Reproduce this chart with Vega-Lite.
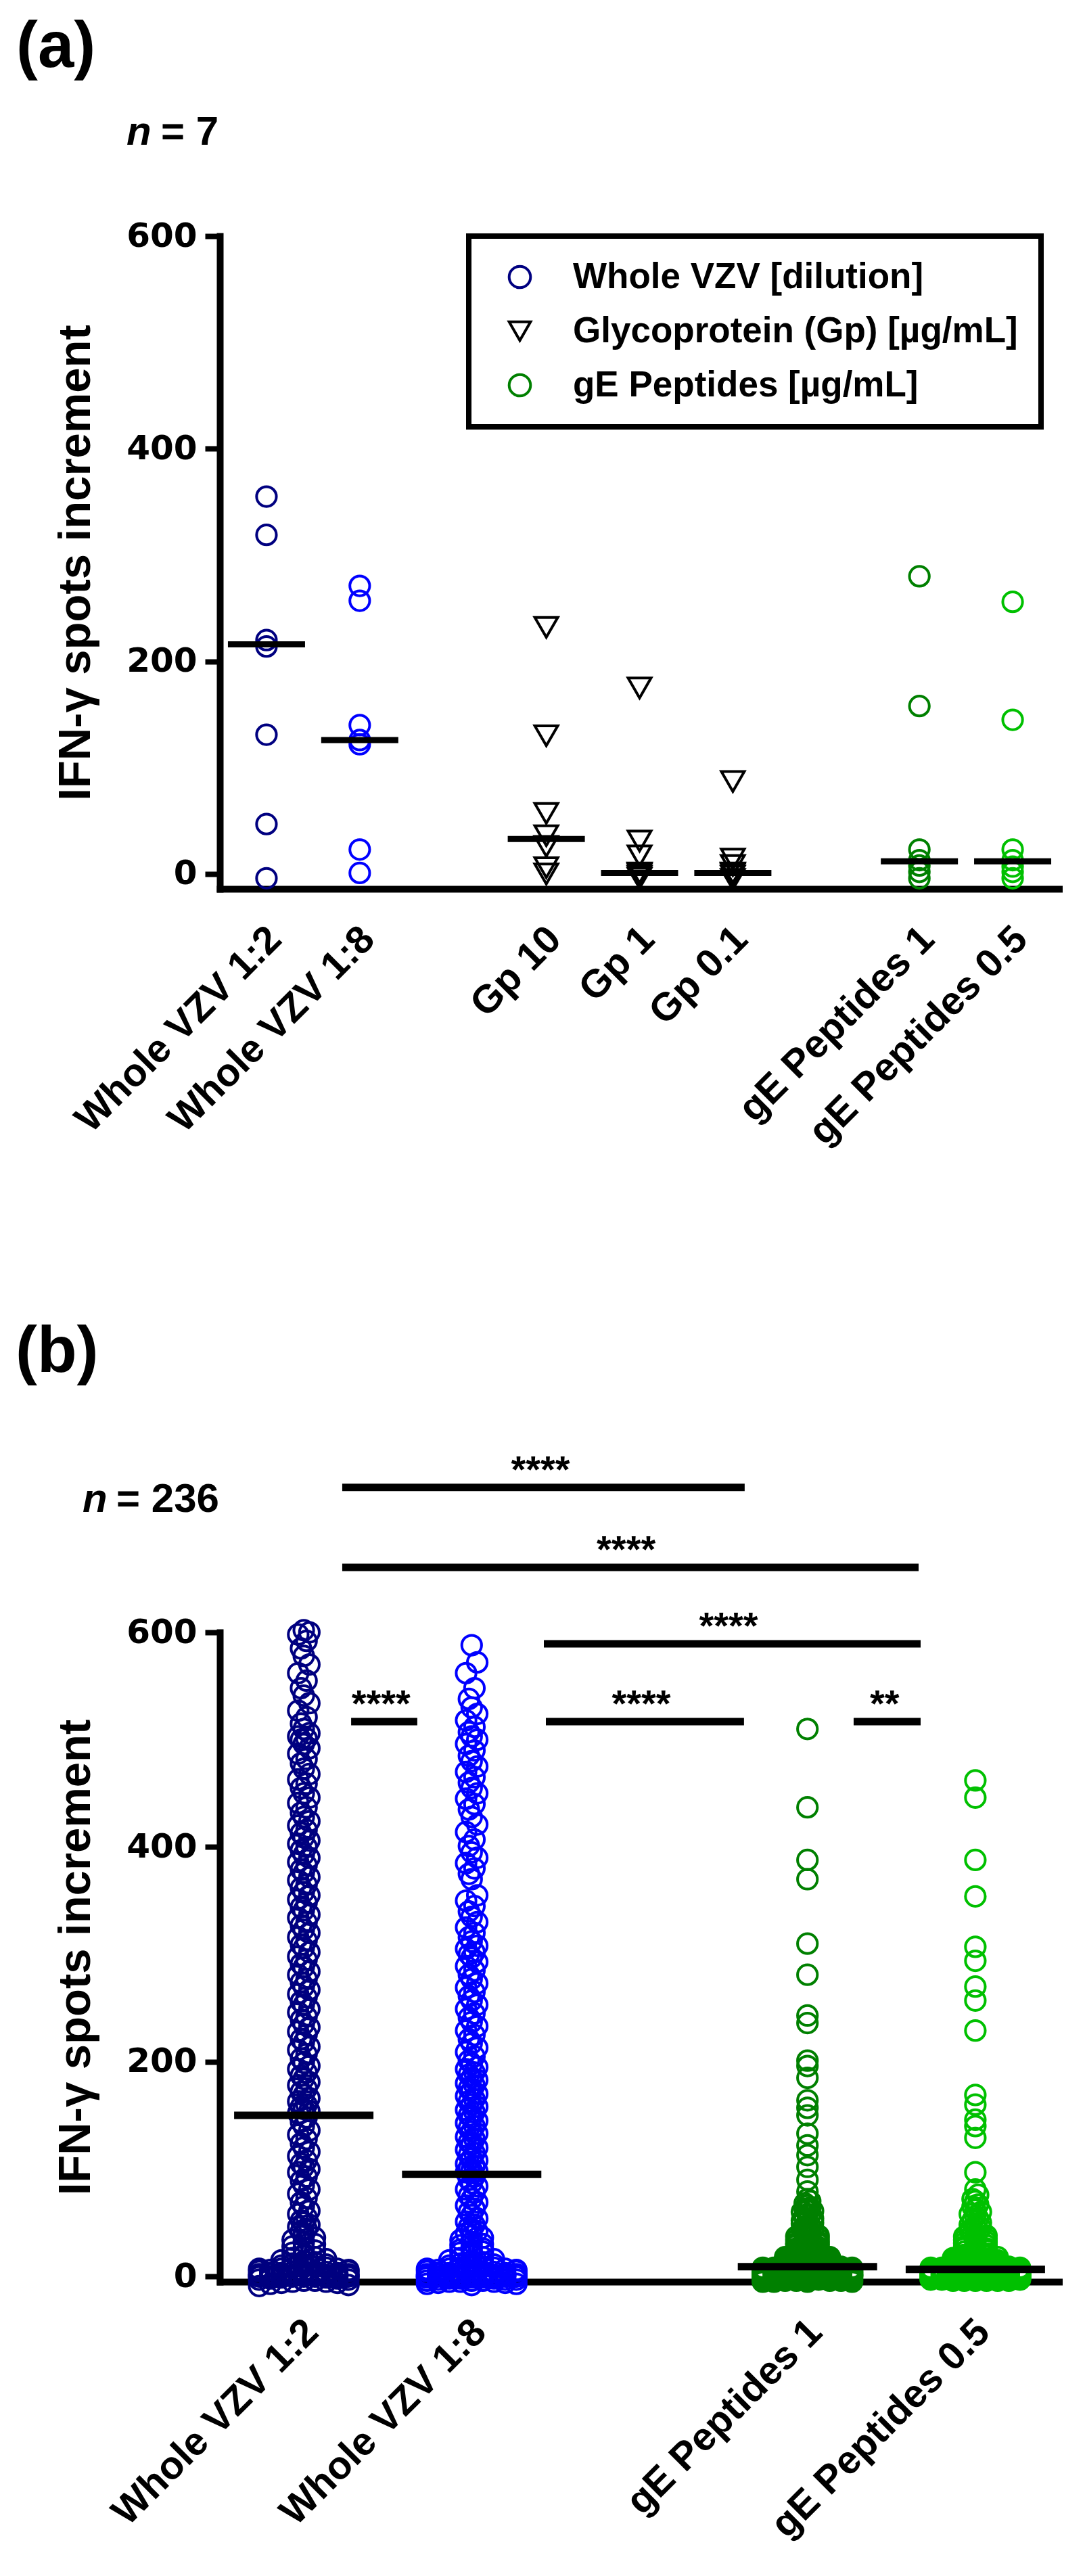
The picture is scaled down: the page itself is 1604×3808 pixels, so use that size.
{
"$schema":"https://vega.github.io/schema/vega-lite/v6.json",
"background":"white",
"padding":{"left":22,"top":22,"right":5,"bottom":5},
"spacing":247,
"config":{
 "view":{"stroke":null},
 "font":"Liberation Sans",
 "legend":{"strokeColor":"black","strokeWidth":8,"symbolStrokeWidth":4},
 "axisX":{"domainWidth":10,"domainColor":"black","domainCap":"square","ticks":false,"grid":false,"labelAngle":-45,"labelAlign":"right","labelBaseline":"top","labelFont":"Liberation Sans","labelFontSize":58,"labelFontWeight":"bold","labelColor":"black","labelPadding":45,"labelOffset":-8,"labelLimit":2000,"labelOverlap":false,"labelBound":false},
 "axisY":{"domainWidth":10,"domainColor":"black","domainCap":"square","ticks":true,"tickWidth":8,"tickSize":22,"tickColor":"black","grid":false,"labelFont":"DejaVu Sans","labelFontSize":50,"labelFontWeight":"bold","labelColor":"black","labelPadding":12,"titleFont":"Liberation Sans","titleFontSize":67,"titleFontWeight":"bold","titleColor":"black","titlePadding":40}
},
"datasets":{
 "a_points":[
  {"c":"Whole VZV 1:2","g":"Whole VZV [dilution]","v":355},{"c":"Whole VZV 1:2","g":"Whole VZV [dilution]","v":319},{"c":"Whole VZV 1:2","g":"Whole VZV [dilution]","v":220},{"c":"Whole VZV 1:2","g":"Whole VZV [dilution]","v":214},{"c":"Whole VZV 1:2","g":"Whole VZV [dilution]","v":131},{"c":"Whole VZV 1:2","g":"Whole VZV [dilution]","v":47},{"c":"Whole VZV 1:2","g":"Whole VZV [dilution]","v":-4},
  {"c":"Whole VZV 1:8","g":"Whole VZV [dilution]","v":271},{"c":"Whole VZV 1:8","g":"Whole VZV [dilution]","v":257},{"c":"Whole VZV 1:8","g":"Whole VZV [dilution]","v":140},{"c":"Whole VZV 1:8","g":"Whole VZV [dilution]","v":126},{"c":"Whole VZV 1:8","g":"Whole VZV [dilution]","v":122},{"c":"Whole VZV 1:8","g":"Whole VZV [dilution]","v":23},{"c":"Whole VZV 1:8","g":"Whole VZV [dilution]","v":1},
  {"c":"Gp 10","g":"Glycoprotein (Gp) [µg/mL]","v":232},{"c":"Gp 10","g":"Glycoprotein (Gp) [µg/mL]","v":130},{"c":"Gp 10","g":"Glycoprotein (Gp) [µg/mL]","v":57},{"c":"Gp 10","g":"Glycoprotein (Gp) [µg/mL]","v":36},{"c":"Gp 10","g":"Glycoprotein (Gp) [µg/mL]","v":26},{"c":"Gp 10","g":"Glycoprotein (Gp) [µg/mL]","v":6},{"c":"Gp 10","g":"Glycoprotein (Gp) [µg/mL]","v":0},
  {"c":"Gp 1","g":"Glycoprotein (Gp) [µg/mL]","v":175},{"c":"Gp 1","g":"Glycoprotein (Gp) [µg/mL]","v":31},{"c":"Gp 1","g":"Glycoprotein (Gp) [µg/mL]","v":17},{"c":"Gp 1","g":"Glycoprotein (Gp) [µg/mL]","v":1},{"c":"Gp 1","g":"Glycoprotein (Gp) [µg/mL]","v":0},{"c":"Gp 1","g":"Glycoprotein (Gp) [µg/mL]","v":-2},{"c":"Gp 1","g":"Glycoprotein (Gp) [µg/mL]","v":-4},
  {"c":"Gp 0.1","g":"Glycoprotein (Gp) [µg/mL]","v":87},{"c":"Gp 0.1","g":"Glycoprotein (Gp) [µg/mL]","v":14},{"c":"Gp 0.1","g":"Glycoprotein (Gp) [µg/mL]","v":8},{"c":"Gp 0.1","g":"Glycoprotein (Gp) [µg/mL]","v":1},{"c":"Gp 0.1","g":"Glycoprotein (Gp) [µg/mL]","v":0},{"c":"Gp 0.1","g":"Glycoprotein (Gp) [µg/mL]","v":-2},{"c":"Gp 0.1","g":"Glycoprotein (Gp) [µg/mL]","v":-5},
  {"c":"gE Peptides 1","g":"gE Peptides [µg/mL]","v":280},{"c":"gE Peptides 1","g":"gE Peptides [µg/mL]","v":158},{"c":"gE Peptides 1","g":"gE Peptides [µg/mL]","v":23},{"c":"gE Peptides 1","g":"gE Peptides [µg/mL]","v":13},{"c":"gE Peptides 1","g":"gE Peptides [µg/mL]","v":8},{"c":"gE Peptides 1","g":"gE Peptides [µg/mL]","v":2},{"c":"gE Peptides 1","g":"gE Peptides [µg/mL]","v":-4},
  {"c":"gE Peptides 0.5","g":"gE Peptides [µg/mL]","v":256},{"c":"gE Peptides 0.5","g":"gE Peptides [µg/mL]","v":145},{"c":"gE Peptides 0.5","g":"gE Peptides [µg/mL]","v":23},{"c":"gE Peptides 0.5","g":"gE Peptides [µg/mL]","v":13},{"c":"gE Peptides 0.5","g":"gE Peptides [µg/mL]","v":7},{"c":"gE Peptides 0.5","g":"gE Peptides [µg/mL]","v":2},{"c":"gE Peptides 0.5","g":"gE Peptides [µg/mL]","v":-4}
 ],
 "a_medians":[
  {"c":"Whole VZV 1:2","m":216},{"c":"Whole VZV 1:8","m":126},{"c":"Gp 10","m":33},{"c":"Gp 1","m":1},{"c":"Gp 0.1","m":1},{"c":"gE Peptides 1","m":12},{"c":"gE Peptides 0.5","m":12}
 ],
 "b_medians":[
  {"c":"Whole VZV 1:2","m":150},{"c":"Whole VZV 1:8","m":95},{"c":"gE Peptides 1","m":9},{"c":"gE Peptides 0.5","m":6.5}
 ],
 "b_sig":[
  {"x1":0.229,"x2":2.626,"y":735,"xm":1.41,"t":"****"},
  {"x1":0.229,"x2":3.662,"y":660.5,"xm":1.92,"t":"****"},
  {"x1":1.43,"x2":3.674,"y":589.3,"xm":2.53,"t":"****"},
  {"x1":0.282,"x2":0.676,"y":516.8,"xm":0.46,"t":"****"},
  {"x1":1.442,"x2":2.622,"y":516.8,"xm":2.01,"t":"****"},
  {"x1":3.275,"x2":3.674,"y":516.8,"xm":3.46,"t":"**"}
 ],
 "b_points":[
{"c":"Whole VZV 1:2","v":602,"l":0},{"c":"Whole VZV 1:2","v":600,"l":0.5},{"c":"Whole VZV 1:2","v":598,"l":-0.5},{"c":"Whole VZV 1:2","v":592,"l":0.25},{"c":"Whole VZV 1:2","v":585,"l":-0.25},
{"c":"Whole VZV 1:2","v":578,"l":0},{"c":"Whole VZV 1:2","v":570,"l":0.5},{"c":"Whole VZV 1:2","v":562,"l":-0.5},{"c":"Whole VZV 1:2","v":555,"l":0.25},{"c":"Whole VZV 1:2","v":548,"l":-0.25},
{"c":"Whole VZV 1:2","v":541,"l":0},{"c":"Whole VZV 1:2","v":534,"l":0.5},{"c":"Whole VZV 1:2","v":527,"l":-0.5},{"c":"Whole VZV 1:2","v":521,"l":0.25},{"c":"Whole VZV 1:2","v":515,"l":-0.25},
{"c":"Whole VZV 1:2","v":510,"l":0},{"c":"Whole VZV 1:2","v":506,"l":0.5},{"c":"Whole VZV 1:2","v":503,"l":-0.5},{"c":"Whole VZV 1:2","v":501,"l":0.25},{"c":"Whole VZV 1:2","v":500,"l":-0.25},
{"c":"Whole VZV 1:2","v":496,"l":0},{"c":"Whole VZV 1:2","v":492,"l":0.5},{"c":"Whole VZV 1:2","v":487,"l":-0.5},{"c":"Whole VZV 1:2","v":482,"l":0.25},{"c":"Whole VZV 1:2","v":478,"l":-0.25},
{"c":"Whole VZV 1:2","v":473,"l":0},{"c":"Whole VZV 1:2","v":468,"l":0.5},{"c":"Whole VZV 1:2","v":463,"l":-0.5},{"c":"Whole VZV 1:2","v":459,"l":0.25},{"c":"Whole VZV 1:2","v":455,"l":-0.25},
{"c":"Whole VZV 1:2","v":450,"l":0},{"c":"Whole VZV 1:2","v":446,"l":0.5},{"c":"Whole VZV 1:2","v":441,"l":-0.5},{"c":"Whole VZV 1:2","v":437,"l":0.25},{"c":"Whole VZV 1:2","v":432,"l":-0.25},
{"c":"Whole VZV 1:2","v":428,"l":0},{"c":"Whole VZV 1:2","v":424,"l":0.5},{"c":"Whole VZV 1:2","v":420,"l":-0.5},{"c":"Whole VZV 1:2","v":416,"l":0.25},{"c":"Whole VZV 1:2","v":413,"l":-0.25},
{"c":"Whole VZV 1:2","v":409,"l":0},{"c":"Whole VZV 1:2","v":406,"l":0.5},{"c":"Whole VZV 1:2","v":403,"l":-0.5},{"c":"Whole VZV 1:2","v":400,"l":0.25},{"c":"Whole VZV 1:2","v":397,"l":-0.25},
{"c":"Whole VZV 1:2","v":393,"l":0},{"c":"Whole VZV 1:2","v":390,"l":0.5},{"c":"Whole VZV 1:2","v":386,"l":-0.5},{"c":"Whole VZV 1:2","v":383,"l":0.25},{"c":"Whole VZV 1:2","v":379,"l":-0.25},
{"c":"Whole VZV 1:2","v":376,"l":0},{"c":"Whole VZV 1:2","v":372,"l":0.5},{"c":"Whole VZV 1:2","v":369,"l":-0.5},{"c":"Whole VZV 1:2","v":365,"l":0.25},{"c":"Whole VZV 1:2","v":362,"l":-0.25},
{"c":"Whole VZV 1:2","v":358,"l":0},{"c":"Whole VZV 1:2","v":355,"l":0.5},{"c":"Whole VZV 1:2","v":351,"l":-0.5},{"c":"Whole VZV 1:2","v":348,"l":0.25},{"c":"Whole VZV 1:2","v":344,"l":-0.25},
{"c":"Whole VZV 1:2","v":341,"l":0},{"c":"Whole VZV 1:2","v":337,"l":0.5},{"c":"Whole VZV 1:2","v":334,"l":-0.5},{"c":"Whole VZV 1:2","v":330,"l":0.25},{"c":"Whole VZV 1:2","v":327,"l":-0.25},
{"c":"Whole VZV 1:2","v":323,"l":0},{"c":"Whole VZV 1:2","v":320,"l":0.5},{"c":"Whole VZV 1:2","v":316,"l":-0.5},{"c":"Whole VZV 1:2","v":313,"l":0.25},{"c":"Whole VZV 1:2","v":309,"l":-0.25},
{"c":"Whole VZV 1:2","v":306,"l":0},{"c":"Whole VZV 1:2","v":302,"l":0.5},{"c":"Whole VZV 1:2","v":298,"l":-0.5},{"c":"Whole VZV 1:2","v":295,"l":0.25},{"c":"Whole VZV 1:2","v":291,"l":-0.25},
{"c":"Whole VZV 1:2","v":288,"l":0},{"c":"Whole VZV 1:2","v":284,"l":0.5},{"c":"Whole VZV 1:2","v":281,"l":-0.5},{"c":"Whole VZV 1:2","v":277,"l":0.25},{"c":"Whole VZV 1:2","v":274,"l":-0.25},
{"c":"Whole VZV 1:2","v":270,"l":0},{"c":"Whole VZV 1:2","v":267,"l":0.5},{"c":"Whole VZV 1:2","v":263,"l":-0.5},{"c":"Whole VZV 1:2","v":260,"l":0.25},{"c":"Whole VZV 1:2","v":256,"l":-0.25},
{"c":"Whole VZV 1:2","v":253,"l":0},{"c":"Whole VZV 1:2","v":249,"l":0.5},{"c":"Whole VZV 1:2","v":246,"l":-0.5},{"c":"Whole VZV 1:2","v":242,"l":0.25},{"c":"Whole VZV 1:2","v":239,"l":-0.25},
{"c":"Whole VZV 1:2","v":235,"l":0},{"c":"Whole VZV 1:2","v":232,"l":0.5},{"c":"Whole VZV 1:2","v":228,"l":-0.5},{"c":"Whole VZV 1:2","v":225,"l":0.25},{"c":"Whole VZV 1:2","v":221,"l":-0.25},
{"c":"Whole VZV 1:2","v":218,"l":0},{"c":"Whole VZV 1:2","v":214,"l":0.5},{"c":"Whole VZV 1:2","v":211,"l":-0.5},{"c":"Whole VZV 1:2","v":207,"l":0.25},{"c":"Whole VZV 1:2","v":203,"l":-0.25},
{"c":"Whole VZV 1:2","v":199,"l":0},{"c":"Whole VZV 1:2","v":196,"l":0.5},{"c":"Whole VZV 1:2","v":193,"l":-0.5},{"c":"Whole VZV 1:2","v":190,"l":0.25},{"c":"Whole VZV 1:2","v":187,"l":-0.25},
{"c":"Whole VZV 1:2","v":184,"l":0},{"c":"Whole VZV 1:2","v":181,"l":0.5},{"c":"Whole VZV 1:2","v":178,"l":-0.5},{"c":"Whole VZV 1:2","v":175,"l":0.25},{"c":"Whole VZV 1:2","v":172,"l":-0.25},
{"c":"Whole VZV 1:2","v":169,"l":0},{"c":"Whole VZV 1:2","v":166,"l":0.5},{"c":"Whole VZV 1:2","v":163,"l":-0.5},{"c":"Whole VZV 1:2","v":160,"l":0.25},{"c":"Whole VZV 1:2","v":158,"l":-0.25},
{"c":"Whole VZV 1:2","v":156,"l":0},{"c":"Whole VZV 1:2","v":154,"l":0.5},{"c":"Whole VZV 1:2","v":152,"l":-0.5},{"c":"Whole VZV 1:2","v":148,"l":0.25},{"c":"Whole VZV 1:2","v":144,"l":-0.25},
{"c":"Whole VZV 1:2","v":140,"l":0},{"c":"Whole VZV 1:2","v":136,"l":0.5},{"c":"Whole VZV 1:2","v":132,"l":-0.5},{"c":"Whole VZV 1:2","v":128,"l":0.25},{"c":"Whole VZV 1:2","v":124,"l":-0.25},
{"c":"Whole VZV 1:2","v":120,"l":0},{"c":"Whole VZV 1:2","v":116,"l":0.5},{"c":"Whole VZV 1:2","v":112,"l":-0.5},{"c":"Whole VZV 1:2","v":108,"l":0.25},{"c":"Whole VZV 1:2","v":105,"l":-0.25},
{"c":"Whole VZV 1:2","v":102,"l":0},{"c":"Whole VZV 1:2","v":100,"l":0.5},{"c":"Whole VZV 1:2","v":97,"l":-0.5},{"c":"Whole VZV 1:2","v":93,"l":0.25},{"c":"Whole VZV 1:2","v":89,"l":-0.25},
{"c":"Whole VZV 1:2","v":85,"l":0},{"c":"Whole VZV 1:2","v":81,"l":0.5},{"c":"Whole VZV 1:2","v":77,"l":-0.5},{"c":"Whole VZV 1:2","v":73,"l":0.25},{"c":"Whole VZV 1:2","v":69,"l":-0.25},
{"c":"Whole VZV 1:2","v":65,"l":0},{"c":"Whole VZV 1:2","v":61,"l":0.5},{"c":"Whole VZV 1:2","v":58,"l":-0.5},{"c":"Whole VZV 1:2","v":55,"l":0.25},{"c":"Whole VZV 1:2","v":52,"l":-0.25},
{"c":"Whole VZV 1:2","v":50,"l":0},{"c":"Whole VZV 1:2","v":48,"l":0.5},{"c":"Whole VZV 1:2","v":46,"l":-0.5},{"c":"Whole VZV 1:2","v":44,"l":0.25},{"c":"Whole VZV 1:2","v":42,"l":-0.25},
{"c":"Whole VZV 1:2","v":40,"l":0},
{"c":"Whole VZV 1:2","v":38,"l":0},{"c":"Whole VZV 1:2","v":36,"l":1},{"c":"Whole VZV 1:2","v":34,"l":-1},{"c":"Whole VZV 1:2","v":32,"l":0},{"c":"Whole VZV 1:2","v":30,"l":1},{"c":"Whole VZV 1:2","v":28,"l":-1},{"c":"Whole VZV 1:2","v":26,"l":0},{"c":"Whole VZV 1:2","v":24,"l":1},{"c":"Whole VZV 1:2","v":22,"l":-1},{"c":"Whole VZV 1:2","v":20,"l":0},
{"c":"Whole VZV 1:2","v":19,"l":0},{"c":"Whole VZV 1:2","v":18,"l":1},{"c":"Whole VZV 1:2","v":17,"l":-1},{"c":"Whole VZV 1:2","v":16,"l":2},{"c":"Whole VZV 1:2","v":15,"l":-2},{"c":"Whole VZV 1:2","v":14,"l":0},{"c":"Whole VZV 1:2","v":13,"l":1},{"c":"Whole VZV 1:2","v":12,"l":-1},{"c":"Whole VZV 1:2","v":11,"l":2},{"c":"Whole VZV 1:2","v":10,"l":-2},{"c":"Whole VZV 1:2","v":11,"l":0},{"c":"Whole VZV 1:2","v":13,"l":1},
{"c":"Whole VZV 1:2","v":9,"l":0},{"c":"Whole VZV 1:2","v":9,"l":1},{"c":"Whole VZV 1:2","v":8,"l":-1},{"c":"Whole VZV 1:2","v":8,"l":2},{"c":"Whole VZV 1:2","v":7,"l":-2},{"c":"Whole VZV 1:2","v":7,"l":3},{"c":"Whole VZV 1:2","v":6,"l":-3},{"c":"Whole VZV 1:2","v":6,"l":4},{"c":"Whole VZV 1:2","v":5,"l":-4},
{"c":"Whole VZV 1:2","v":5,"l":0},{"c":"Whole VZV 1:2","v":4,"l":1},{"c":"Whole VZV 1:2","v":4,"l":-1},{"c":"Whole VZV 1:2","v":4,"l":2},{"c":"Whole VZV 1:2","v":3,"l":-2},{"c":"Whole VZV 1:2","v":3,"l":3},{"c":"Whole VZV 1:2","v":3,"l":-3},{"c":"Whole VZV 1:2","v":2,"l":4},{"c":"Whole VZV 1:2","v":2,"l":-4},
{"c":"Whole VZV 1:2","v":2,"l":0},{"c":"Whole VZV 1:2","v":1,"l":1},{"c":"Whole VZV 1:2","v":1,"l":-1},{"c":"Whole VZV 1:2","v":1,"l":2},{"c":"Whole VZV 1:2","v":0,"l":-2},{"c":"Whole VZV 1:2","v":0,"l":3},{"c":"Whole VZV 1:2","v":0,"l":-3},{"c":"Whole VZV 1:2","v":0,"l":4},{"c":"Whole VZV 1:2","v":0,"l":-4},
{"c":"Whole VZV 1:2","v":0,"l":0},{"c":"Whole VZV 1:2","v":0,"l":1},{"c":"Whole VZV 1:2","v":0,"l":-1},{"c":"Whole VZV 1:2","v":0,"l":2},{"c":"Whole VZV 1:2","v":0,"l":-2},{"c":"Whole VZV 1:2","v":0,"l":3},{"c":"Whole VZV 1:2","v":0,"l":-3},{"c":"Whole VZV 1:2","v":0,"l":4},{"c":"Whole VZV 1:2","v":0,"l":-4},
{"c":"Whole VZV 1:2","v":0,"l":0},{"c":"Whole VZV 1:2","v":0,"l":1},{"c":"Whole VZV 1:2","v":0,"l":-1},{"c":"Whole VZV 1:2","v":0,"l":2},{"c":"Whole VZV 1:2","v":1,"l":-2},{"c":"Whole VZV 1:2","v":2,"l":3},{"c":"Whole VZV 1:2","v":3,"l":-3},{"c":"Whole VZV 1:2","v":5,"l":4},{"c":"Whole VZV 1:2","v":7,"l":-4},
{"c":"Whole VZV 1:2","v":9,"l":0},{"c":"Whole VZV 1:2","v":2,"l":1},{"c":"Whole VZV 1:2","v":4,"l":-1},{"c":"Whole VZV 1:2","v":-1,"l":2},{"c":"Whole VZV 1:2","v":-1,"l":-2},{"c":"Whole VZV 1:2","v":-2,"l":3},{"c":"Whole VZV 1:2","v":-2,"l":-3},{"c":"Whole VZV 1:2","v":-3,"l":4},{"c":"Whole VZV 1:2","v":-3,"l":-4},
{"c":"Whole VZV 1:2","v":-4,"l":0},{"c":"Whole VZV 1:2","v":-4,"l":1},{"c":"Whole VZV 1:2","v":-5,"l":-1},{"c":"Whole VZV 1:2","v":-5,"l":2},{"c":"Whole VZV 1:2","v":-6,"l":-2},{"c":"Whole VZV 1:2","v":-6,"l":3},{"c":"Whole VZV 1:2","v":-7,"l":-3},{"c":"Whole VZV 1:2","v":-8,"l":4},{"c":"Whole VZV 1:2","v":-9,"l":-4},

{"c":"Whole VZV 1:8","v":588,"l":0},{"c":"Whole VZV 1:8","v":572,"l":0.5},{"c":"Whole VZV 1:8","v":562,"l":-0.5},{"c":"Whole VZV 1:8","v":548,"l":0.25},{"c":"Whole VZV 1:8","v":538,"l":-0.25},
{"c":"Whole VZV 1:8","v":530,"l":0},{"c":"Whole VZV 1:8","v":524,"l":0.5},{"c":"Whole VZV 1:8","v":518,"l":-0.5},{"c":"Whole VZV 1:8","v":512,"l":0.25},{"c":"Whole VZV 1:8","v":507,"l":-0.25},
{"c":"Whole VZV 1:8","v":503,"l":0},{"c":"Whole VZV 1:8","v":500,"l":0.5},{"c":"Whole VZV 1:8","v":496,"l":-0.5},{"c":"Whole VZV 1:8","v":490,"l":0.25},{"c":"Whole VZV 1:8","v":485,"l":-0.25},
{"c":"Whole VZV 1:8","v":480,"l":0},{"c":"Whole VZV 1:8","v":475,"l":0.5},{"c":"Whole VZV 1:8","v":470,"l":-0.5},{"c":"Whole VZV 1:8","v":465,"l":0.25},{"c":"Whole VZV 1:8","v":460,"l":-0.25},
{"c":"Whole VZV 1:8","v":455,"l":0},{"c":"Whole VZV 1:8","v":450,"l":0.5},{"c":"Whole VZV 1:8","v":445,"l":-0.5},{"c":"Whole VZV 1:8","v":440,"l":0.25},{"c":"Whole VZV 1:8","v":435,"l":-0.25},
{"c":"Whole VZV 1:8","v":428,"l":0},{"c":"Whole VZV 1:8","v":421,"l":0.5},{"c":"Whole VZV 1:8","v":414,"l":-0.5},{"c":"Whole VZV 1:8","v":407,"l":0.25},{"c":"Whole VZV 1:8","v":401,"l":-0.25},
{"c":"Whole VZV 1:8","v":395,"l":0},{"c":"Whole VZV 1:8","v":390,"l":0.5},{"c":"Whole VZV 1:8","v":385,"l":-0.5},{"c":"Whole VZV 1:8","v":380,"l":0.25},{"c":"Whole VZV 1:8","v":375,"l":-0.25},
{"c":"Whole VZV 1:8","v":370,"l":0},{"c":"Whole VZV 1:8","v":355,"l":0.5},{"c":"Whole VZV 1:8","v":350,"l":-0.5},{"c":"Whole VZV 1:8","v":345,"l":0.25},{"c":"Whole VZV 1:8","v":340,"l":-0.25},
{"c":"Whole VZV 1:8","v":335,"l":0},{"c":"Whole VZV 1:8","v":330,"l":0.5},{"c":"Whole VZV 1:8","v":325,"l":-0.5},{"c":"Whole VZV 1:8","v":320,"l":0.25},{"c":"Whole VZV 1:8","v":316,"l":-0.25},
{"c":"Whole VZV 1:8","v":312,"l":0},{"c":"Whole VZV 1:8","v":308,"l":0.5},{"c":"Whole VZV 1:8","v":305,"l":-0.5},{"c":"Whole VZV 1:8","v":302,"l":0.25},{"c":"Whole VZV 1:8","v":300,"l":-0.25},
{"c":"Whole VZV 1:8","v":297,"l":0},{"c":"Whole VZV 1:8","v":293,"l":0.5},{"c":"Whole VZV 1:8","v":289,"l":-0.5},{"c":"Whole VZV 1:8","v":285,"l":0.25},{"c":"Whole VZV 1:8","v":281,"l":-0.25},
{"c":"Whole VZV 1:8","v":277,"l":0},{"c":"Whole VZV 1:8","v":273,"l":0.5},{"c":"Whole VZV 1:8","v":269,"l":-0.5},{"c":"Whole VZV 1:8","v":265,"l":0.25},{"c":"Whole VZV 1:8","v":261,"l":-0.25},
{"c":"Whole VZV 1:8","v":257,"l":0},{"c":"Whole VZV 1:8","v":253,"l":0.5},{"c":"Whole VZV 1:8","v":249,"l":-0.5},{"c":"Whole VZV 1:8","v":245,"l":0.25},{"c":"Whole VZV 1:8","v":241,"l":-0.25},
{"c":"Whole VZV 1:8","v":237,"l":0},{"c":"Whole VZV 1:8","v":233,"l":0.5},{"c":"Whole VZV 1:8","v":229,"l":-0.5},{"c":"Whole VZV 1:8","v":225,"l":0.25},{"c":"Whole VZV 1:8","v":221,"l":-0.25},
{"c":"Whole VZV 1:8","v":217,"l":0},{"c":"Whole VZV 1:8","v":213,"l":0.5},{"c":"Whole VZV 1:8","v":209,"l":-0.5},{"c":"Whole VZV 1:8","v":205,"l":0.25},{"c":"Whole VZV 1:8","v":201,"l":-0.25},
{"c":"Whole VZV 1:8","v":198,"l":0},{"c":"Whole VZV 1:8","v":195,"l":0.5},{"c":"Whole VZV 1:8","v":193,"l":-0.5},{"c":"Whole VZV 1:8","v":190,"l":0.25},{"c":"Whole VZV 1:8","v":188,"l":-0.25},
{"c":"Whole VZV 1:8","v":185,"l":0},{"c":"Whole VZV 1:8","v":183,"l":0.5},{"c":"Whole VZV 1:8","v":180,"l":-0.5},{"c":"Whole VZV 1:8","v":178,"l":0.25},{"c":"Whole VZV 1:8","v":175,"l":-0.25},
{"c":"Whole VZV 1:8","v":173,"l":0},{"c":"Whole VZV 1:8","v":170,"l":0.5},{"c":"Whole VZV 1:8","v":168,"l":-0.5},{"c":"Whole VZV 1:8","v":165,"l":0.25},{"c":"Whole VZV 1:8","v":163,"l":-0.25},
{"c":"Whole VZV 1:8","v":160,"l":0},{"c":"Whole VZV 1:8","v":158,"l":0.5},{"c":"Whole VZV 1:8","v":155,"l":-0.5},{"c":"Whole VZV 1:8","v":153,"l":0.25},{"c":"Whole VZV 1:8","v":150,"l":-0.25},
{"c":"Whole VZV 1:8","v":148,"l":0},{"c":"Whole VZV 1:8","v":145,"l":0.5},{"c":"Whole VZV 1:8","v":143,"l":-0.5},{"c":"Whole VZV 1:8","v":140,"l":0.25},{"c":"Whole VZV 1:8","v":138,"l":-0.25},
{"c":"Whole VZV 1:8","v":135,"l":0},{"c":"Whole VZV 1:8","v":133,"l":0.5},{"c":"Whole VZV 1:8","v":130,"l":-0.5},{"c":"Whole VZV 1:8","v":128,"l":0.25},{"c":"Whole VZV 1:8","v":125,"l":-0.25},
{"c":"Whole VZV 1:8","v":123,"l":0},{"c":"Whole VZV 1:8","v":120,"l":0.5},{"c":"Whole VZV 1:8","v":118,"l":-0.5},{"c":"Whole VZV 1:8","v":115,"l":0.25},{"c":"Whole VZV 1:8","v":113,"l":-0.25},
{"c":"Whole VZV 1:8","v":110,"l":0},{"c":"Whole VZV 1:8","v":108,"l":0.5},{"c":"Whole VZV 1:8","v":105,"l":-0.5},{"c":"Whole VZV 1:8","v":103,"l":0.25},{"c":"Whole VZV 1:8","v":101,"l":-0.25},
{"c":"Whole VZV 1:8","v":99,"l":0},{"c":"Whole VZV 1:8","v":98,"l":0.5},{"c":"Whole VZV 1:8","v":97,"l":-0.5},{"c":"Whole VZV 1:8","v":93,"l":0.25},{"c":"Whole VZV 1:8","v":90,"l":-0.25},
{"c":"Whole VZV 1:8","v":87,"l":0},{"c":"Whole VZV 1:8","v":84,"l":0.5},{"c":"Whole VZV 1:8","v":81,"l":-0.5},{"c":"Whole VZV 1:8","v":78,"l":0.25},{"c":"Whole VZV 1:8","v":75,"l":-0.25},
{"c":"Whole VZV 1:8","v":72,"l":0},{"c":"Whole VZV 1:8","v":69,"l":0.5},{"c":"Whole VZV 1:8","v":66,"l":-0.5},{"c":"Whole VZV 1:8","v":63,"l":0.25},{"c":"Whole VZV 1:8","v":60,"l":-0.25},
{"c":"Whole VZV 1:8","v":57,"l":0},{"c":"Whole VZV 1:8","v":54,"l":0.5},{"c":"Whole VZV 1:8","v":51,"l":-0.5},{"c":"Whole VZV 1:8","v":48,"l":0.25},{"c":"Whole VZV 1:8","v":46,"l":-0.25},
{"c":"Whole VZV 1:8","v":44,"l":0},{"c":"Whole VZV 1:8","v":42,"l":0.5},{"c":"Whole VZV 1:8","v":40,"l":-0.5},
{"c":"Whole VZV 1:8","v":38,"l":0},{"c":"Whole VZV 1:8","v":36,"l":1},{"c":"Whole VZV 1:8","v":34,"l":-1},{"c":"Whole VZV 1:8","v":32,"l":0},{"c":"Whole VZV 1:8","v":30,"l":1},{"c":"Whole VZV 1:8","v":29,"l":-1},{"c":"Whole VZV 1:8","v":28,"l":0},{"c":"Whole VZV 1:8","v":26,"l":1},{"c":"Whole VZV 1:8","v":25,"l":-1},{"c":"Whole VZV 1:8","v":24,"l":0},{"c":"Whole VZV 1:8","v":23,"l":1},{"c":"Whole VZV 1:8","v":22,"l":-1},{"c":"Whole VZV 1:8","v":21,"l":0},
{"c":"Whole VZV 1:8","v":19,"l":0},{"c":"Whole VZV 1:8","v":18,"l":1},{"c":"Whole VZV 1:8","v":17,"l":-1},{"c":"Whole VZV 1:8","v":16,"l":2},{"c":"Whole VZV 1:8","v":15,"l":-2},{"c":"Whole VZV 1:8","v":14,"l":0},{"c":"Whole VZV 1:8","v":13,"l":1},{"c":"Whole VZV 1:8","v":12,"l":-1},{"c":"Whole VZV 1:8","v":11,"l":2},{"c":"Whole VZV 1:8","v":10,"l":-2},{"c":"Whole VZV 1:8","v":11,"l":0},{"c":"Whole VZV 1:8","v":13,"l":1},
{"c":"Whole VZV 1:8","v":9,"l":0},{"c":"Whole VZV 1:8","v":9,"l":1},{"c":"Whole VZV 1:8","v":8,"l":-1},{"c":"Whole VZV 1:8","v":8,"l":2},{"c":"Whole VZV 1:8","v":7,"l":-2},{"c":"Whole VZV 1:8","v":7,"l":3},{"c":"Whole VZV 1:8","v":6,"l":-3},{"c":"Whole VZV 1:8","v":6,"l":4},{"c":"Whole VZV 1:8","v":5,"l":-4},
{"c":"Whole VZV 1:8","v":5,"l":0},{"c":"Whole VZV 1:8","v":4,"l":1},{"c":"Whole VZV 1:8","v":4,"l":-1},{"c":"Whole VZV 1:8","v":4,"l":2},{"c":"Whole VZV 1:8","v":3,"l":-2},{"c":"Whole VZV 1:8","v":3,"l":3},{"c":"Whole VZV 1:8","v":3,"l":-3},{"c":"Whole VZV 1:8","v":2,"l":4},{"c":"Whole VZV 1:8","v":2,"l":-4},
{"c":"Whole VZV 1:8","v":2,"l":0},{"c":"Whole VZV 1:8","v":1,"l":1},{"c":"Whole VZV 1:8","v":1,"l":-1},{"c":"Whole VZV 1:8","v":1,"l":2},{"c":"Whole VZV 1:8","v":0,"l":-2},{"c":"Whole VZV 1:8","v":0,"l":3},{"c":"Whole VZV 1:8","v":0,"l":-3},{"c":"Whole VZV 1:8","v":0,"l":4},{"c":"Whole VZV 1:8","v":0,"l":-4},
{"c":"Whole VZV 1:8","v":0,"l":0},{"c":"Whole VZV 1:8","v":0,"l":1},{"c":"Whole VZV 1:8","v":0,"l":-1},{"c":"Whole VZV 1:8","v":0,"l":2},{"c":"Whole VZV 1:8","v":0,"l":-2},{"c":"Whole VZV 1:8","v":0,"l":3},{"c":"Whole VZV 1:8","v":0,"l":-3},{"c":"Whole VZV 1:8","v":0,"l":4},{"c":"Whole VZV 1:8","v":0,"l":-4},
{"c":"Whole VZV 1:8","v":0,"l":0},{"c":"Whole VZV 1:8","v":0,"l":1},{"c":"Whole VZV 1:8","v":0,"l":-1},{"c":"Whole VZV 1:8","v":0,"l":2},{"c":"Whole VZV 1:8","v":1,"l":-2},{"c":"Whole VZV 1:8","v":2,"l":3},{"c":"Whole VZV 1:8","v":3,"l":-3},{"c":"Whole VZV 1:8","v":5,"l":4},{"c":"Whole VZV 1:8","v":7,"l":-4},
{"c":"Whole VZV 1:8","v":9,"l":0},{"c":"Whole VZV 1:8","v":2,"l":1},{"c":"Whole VZV 1:8","v":4,"l":-1},{"c":"Whole VZV 1:8","v":0,"l":2},{"c":"Whole VZV 1:8","v":1,"l":-2},{"c":"Whole VZV 1:8","v":2,"l":3},{"c":"Whole VZV 1:8","v":3,"l":-3},{"c":"Whole VZV 1:8","v":0,"l":4},{"c":"Whole VZV 1:8","v":-1,"l":-4},
{"c":"Whole VZV 1:8","v":-1,"l":0},{"c":"Whole VZV 1:8","v":-1,"l":1},{"c":"Whole VZV 1:8","v":-2,"l":-1},{"c":"Whole VZV 1:8","v":-2,"l":2},{"c":"Whole VZV 1:8","v":-2,"l":-2},{"c":"Whole VZV 1:8","v":-3,"l":3},{"c":"Whole VZV 1:8","v":-3,"l":-3},{"c":"Whole VZV 1:8","v":-3,"l":4},{"c":"Whole VZV 1:8","v":-4,"l":-4},
{"c":"Whole VZV 1:8","v":-4,"l":0},{"c":"Whole VZV 1:8","v":-4,"l":1},{"c":"Whole VZV 1:8","v":-5,"l":-1},{"c":"Whole VZV 1:8","v":-5,"l":2},{"c":"Whole VZV 1:8","v":-5,"l":-2},{"c":"Whole VZV 1:8","v":-6,"l":3},{"c":"Whole VZV 1:8","v":-6,"l":-3},{"c":"Whole VZV 1:8","v":-7,"l":4},{"c":"Whole VZV 1:8","v":-7,"l":-4},
{"c":"Whole VZV 1:8","v":-8,"l":0},

{"c":"gE Peptides 1","v":510,"l":0},{"c":"gE Peptides 1","v":437,"l":0},{"c":"gE Peptides 1","v":388,"l":0},{"c":"gE Peptides 1","v":370,"l":0},{"c":"gE Peptides 1","v":310,"l":0},{"c":"gE Peptides 1","v":281,"l":0},{"c":"gE Peptides 1","v":243,"l":0},{"c":"gE Peptides 1","v":236,"l":0},{"c":"gE Peptides 1","v":201,"l":0},{"c":"gE Peptides 1","v":196,"l":0},
{"c":"gE Peptides 1","v":185,"l":0},{"c":"gE Peptides 1","v":164,"l":0},{"c":"gE Peptides 1","v":157,"l":0},{"c":"gE Peptides 1","v":150,"l":0},{"c":"gE Peptides 1","v":133,"l":0},{"c":"gE Peptides 1","v":122,"l":0},{"c":"gE Peptides 1","v":113,"l":0},{"c":"gE Peptides 1","v":102,"l":0},{"c":"gE Peptides 1","v":90,"l":0},{"c":"gE Peptides 1","v":79,"l":0},
{"c":"gE Peptides 1","v":72,"l":0},{"c":"gE Peptides 1","v":70,"l":0.25},{"c":"gE Peptides 1","v":68,"l":-0.25},{"c":"gE Peptides 1","v":66,"l":0},{"c":"gE Peptides 1","v":64,"l":0.25},{"c":"gE Peptides 1","v":63,"l":-0.25},{"c":"gE Peptides 1","v":62,"l":0},{"c":"gE Peptides 1","v":61,"l":0.5},{"c":"gE Peptides 1","v":60,"l":-0.5},{"c":"gE Peptides 1","v":58,"l":0},
{"c":"gE Peptides 1","v":57,"l":0.25},{"c":"gE Peptides 1","v":55,"l":-0.25},{"c":"gE Peptides 1","v":54,"l":0.5},{"c":"gE Peptides 1","v":52,"l":-0.5},{"c":"gE Peptides 1","v":51,"l":0},{"c":"gE Peptides 1","v":50,"l":0.5},{"c":"gE Peptides 1","v":49,"l":-0.5},{"c":"gE Peptides 1","v":47,"l":0.25},{"c":"gE Peptides 1","v":46,"l":-0.25},{"c":"gE Peptides 1","v":45,"l":0},
{"c":"gE Peptides 1","v":44,"l":0.5},{"c":"gE Peptides 1","v":43,"l":-0.5},{"c":"gE Peptides 1","v":42,"l":0.25},{"c":"gE Peptides 1","v":41,"l":-0.25},{"c":"gE Peptides 1","v":40,"l":0},
{"c":"gE Peptides 1","v":39,"l":0},{"c":"gE Peptides 1","v":38,"l":1},{"c":"gE Peptides 1","v":37,"l":-1},{"c":"gE Peptides 1","v":36,"l":0},{"c":"gE Peptides 1","v":35,"l":1},{"c":"gE Peptides 1","v":34,"l":-1},{"c":"gE Peptides 1","v":33,"l":0},{"c":"gE Peptides 1","v":32,"l":1},{"c":"gE Peptides 1","v":31,"l":-1},{"c":"gE Peptides 1","v":30,"l":0},
{"c":"gE Peptides 1","v":30,"l":1},{"c":"gE Peptides 1","v":29,"l":-1},{"c":"gE Peptides 1","v":28,"l":0},{"c":"gE Peptides 1","v":27,"l":1},{"c":"gE Peptides 1","v":26,"l":-1},{"c":"gE Peptides 1","v":25,"l":0},{"c":"gE Peptides 1","v":25,"l":1},{"c":"gE Peptides 1","v":24,"l":-1},{"c":"gE Peptides 1","v":24,"l":0},{"c":"gE Peptides 1","v":23,"l":1},
{"c":"gE Peptides 1","v":23,"l":-1},{"c":"gE Peptides 1","v":22,"l":0},{"c":"gE Peptides 1","v":22,"l":1},{"c":"gE Peptides 1","v":21,"l":-1},{"c":"gE Peptides 1","v":21,"l":0},{"c":"gE Peptides 1","v":20,"l":1},{"c":"gE Peptides 1","v":20,"l":-1},{"c":"gE Peptides 1","v":20,"l":0},{"c":"gE Peptides 1","v":20,"l":1},{"c":"gE Peptides 1","v":20,"l":-1},
{"c":"gE Peptides 1","v":19,"l":0},{"c":"gE Peptides 1","v":19,"l":1},{"c":"gE Peptides 1","v":19,"l":-1},{"c":"gE Peptides 1","v":18,"l":2},{"c":"gE Peptides 1","v":18,"l":-2},{"c":"gE Peptides 1","v":18,"l":0},{"c":"gE Peptides 1","v":17,"l":1},{"c":"gE Peptides 1","v":17,"l":-1},{"c":"gE Peptides 1","v":17,"l":2},{"c":"gE Peptides 1","v":16,"l":-2},
{"c":"gE Peptides 1","v":16,"l":0},{"c":"gE Peptides 1","v":16,"l":1},{"c":"gE Peptides 1","v":15,"l":-1},{"c":"gE Peptides 1","v":15,"l":2},{"c":"gE Peptides 1","v":15,"l":-2},{"c":"gE Peptides 1","v":14,"l":0},{"c":"gE Peptides 1","v":14,"l":1},{"c":"gE Peptides 1","v":14,"l":-1},{"c":"gE Peptides 1","v":13,"l":2},{"c":"gE Peptides 1","v":13,"l":-2},
{"c":"gE Peptides 1","v":13,"l":0},{"c":"gE Peptides 1","v":12,"l":1},{"c":"gE Peptides 1","v":12,"l":-1},{"c":"gE Peptides 1","v":12,"l":2},{"c":"gE Peptides 1","v":12,"l":-2},{"c":"gE Peptides 1","v":11,"l":0},{"c":"gE Peptides 1","v":11,"l":1},{"c":"gE Peptides 1","v":11,"l":-1},{"c":"gE Peptides 1","v":11,"l":2},{"c":"gE Peptides 1","v":11,"l":-2},
{"c":"gE Peptides 1","v":10,"l":0},{"c":"gE Peptides 1","v":10,"l":1},{"c":"gE Peptides 1","v":10,"l":-1},{"c":"gE Peptides 1","v":10,"l":2},{"c":"gE Peptides 1","v":10,"l":-2},{"c":"gE Peptides 1","v":10,"l":0},{"c":"gE Peptides 1","v":10,"l":1},{"c":"gE Peptides 1","v":10,"l":-1},{"c":"gE Peptides 1","v":10,"l":2},{"c":"gE Peptides 1","v":10,"l":-2},
{"c":"gE Peptides 1","v":10,"l":0},{"c":"gE Peptides 1","v":10,"l":1},{"c":"gE Peptides 1","v":10,"l":-1},
{"c":"gE Peptides 1","v":9,"l":0},{"c":"gE Peptides 1","v":9,"l":1},{"c":"gE Peptides 1","v":9,"l":-1},{"c":"gE Peptides 1","v":9,"l":2},{"c":"gE Peptides 1","v":9,"l":-2},{"c":"gE Peptides 1","v":9,"l":3},{"c":"gE Peptides 1","v":8,"l":-3},{"c":"gE Peptides 1","v":8,"l":4},{"c":"gE Peptides 1","v":8,"l":-4},
{"c":"gE Peptides 1","v":8,"l":0},{"c":"gE Peptides 1","v":8,"l":1},{"c":"gE Peptides 1","v":8,"l":-1},{"c":"gE Peptides 1","v":8,"l":2},{"c":"gE Peptides 1","v":8,"l":-2},{"c":"gE Peptides 1","v":7,"l":3},{"c":"gE Peptides 1","v":7,"l":-3},{"c":"gE Peptides 1","v":7,"l":4},{"c":"gE Peptides 1","v":7,"l":-4},
{"c":"gE Peptides 1","v":7,"l":0},{"c":"gE Peptides 1","v":7,"l":1},{"c":"gE Peptides 1","v":7,"l":-1},{"c":"gE Peptides 1","v":7,"l":2},{"c":"gE Peptides 1","v":6,"l":-2},{"c":"gE Peptides 1","v":6,"l":3},{"c":"gE Peptides 1","v":6,"l":-3},{"c":"gE Peptides 1","v":6,"l":4},{"c":"gE Peptides 1","v":6,"l":-4},
{"c":"gE Peptides 1","v":6,"l":0},{"c":"gE Peptides 1","v":6,"l":1},{"c":"gE Peptides 1","v":6,"l":-1},{"c":"gE Peptides 1","v":6,"l":2},{"c":"gE Peptides 1","v":5,"l":-2},{"c":"gE Peptides 1","v":5,"l":3},{"c":"gE Peptides 1","v":5,"l":-3},{"c":"gE Peptides 1","v":5,"l":4},{"c":"gE Peptides 1","v":5,"l":-4},
{"c":"gE Peptides 1","v":5,"l":0},{"c":"gE Peptides 1","v":5,"l":1},{"c":"gE Peptides 1","v":5,"l":-1},{"c":"gE Peptides 1","v":5,"l":2},{"c":"gE Peptides 1","v":4,"l":-2},{"c":"gE Peptides 1","v":4,"l":3},{"c":"gE Peptides 1","v":4,"l":-3},{"c":"gE Peptides 1","v":4,"l":4},{"c":"gE Peptides 1","v":4,"l":-4},
{"c":"gE Peptides 1","v":4,"l":0},{"c":"gE Peptides 1","v":4,"l":1},{"c":"gE Peptides 1","v":4,"l":-1},{"c":"gE Peptides 1","v":4,"l":2},{"c":"gE Peptides 1","v":4,"l":-2},{"c":"gE Peptides 1","v":3,"l":3},{"c":"gE Peptides 1","v":3,"l":-3},{"c":"gE Peptides 1","v":3,"l":4},{"c":"gE Peptides 1","v":3,"l":-4},
{"c":"gE Peptides 1","v":3,"l":0},{"c":"gE Peptides 1","v":3,"l":1},{"c":"gE Peptides 1","v":3,"l":-1},{"c":"gE Peptides 1","v":3,"l":2},{"c":"gE Peptides 1","v":3,"l":-2},{"c":"gE Peptides 1","v":3,"l":3},{"c":"gE Peptides 1","v":2,"l":-3},{"c":"gE Peptides 1","v":2,"l":4},{"c":"gE Peptides 1","v":2,"l":-4},
{"c":"gE Peptides 1","v":2,"l":0},{"c":"gE Peptides 1","v":2,"l":1},{"c":"gE Peptides 1","v":2,"l":-1},{"c":"gE Peptides 1","v":2,"l":2},{"c":"gE Peptides 1","v":2,"l":-2},{"c":"gE Peptides 1","v":2,"l":3},{"c":"gE Peptides 1","v":2,"l":-3},{"c":"gE Peptides 1","v":1,"l":4},{"c":"gE Peptides 1","v":1,"l":-4},
{"c":"gE Peptides 1","v":1,"l":0},{"c":"gE Peptides 1","v":1,"l":1},{"c":"gE Peptides 1","v":1,"l":-1},{"c":"gE Peptides 1","v":1,"l":2},{"c":"gE Peptides 1","v":1,"l":-2},{"c":"gE Peptides 1","v":1,"l":3},{"c":"gE Peptides 1","v":1,"l":-3},{"c":"gE Peptides 1","v":1,"l":4},{"c":"gE Peptides 1","v":0,"l":-4},
{"c":"gE Peptides 1","v":0,"l":0},{"c":"gE Peptides 1","v":0,"l":1},{"c":"gE Peptides 1","v":0,"l":-1},{"c":"gE Peptides 1","v":0,"l":2},{"c":"gE Peptides 1","v":0,"l":-2},{"c":"gE Peptides 1","v":0,"l":3},{"c":"gE Peptides 1","v":0,"l":-3},{"c":"gE Peptides 1","v":0,"l":4},{"c":"gE Peptides 1","v":0,"l":-4},
{"c":"gE Peptides 1","v":0,"l":0},{"c":"gE Peptides 1","v":0,"l":1},{"c":"gE Peptides 1","v":0,"l":-1},{"c":"gE Peptides 1","v":0,"l":2},{"c":"gE Peptides 1","v":0,"l":-2},{"c":"gE Peptides 1","v":-1,"l":3},{"c":"gE Peptides 1","v":-1,"l":-3},{"c":"gE Peptides 1","v":-1,"l":4},{"c":"gE Peptides 1","v":-1,"l":-4},
{"c":"gE Peptides 1","v":-1,"l":0},{"c":"gE Peptides 1","v":-2,"l":1},{"c":"gE Peptides 1","v":-2,"l":-1},{"c":"gE Peptides 1","v":-2,"l":2},{"c":"gE Peptides 1","v":-2,"l":-2},{"c":"gE Peptides 1","v":-2,"l":3},{"c":"gE Peptides 1","v":-3,"l":-3},{"c":"gE Peptides 1","v":-3,"l":4},{"c":"gE Peptides 1","v":-3,"l":-4},
{"c":"gE Peptides 1","v":-3,"l":0},{"c":"gE Peptides 1","v":-3,"l":1},{"c":"gE Peptides 1","v":-4,"l":-1},{"c":"gE Peptides 1","v":-4,"l":2},{"c":"gE Peptides 1","v":-4,"l":-2},{"c":"gE Peptides 1","v":-4,"l":3},{"c":"gE Peptides 1","v":-5,"l":-3},{"c":"gE Peptides 1","v":-5,"l":4},{"c":"gE Peptides 1","v":-5,"l":-4},
{"c":"gE Peptides 1","v":-5,"l":0},

{"c":"gE Peptides 0.5","v":462,"l":0},{"c":"gE Peptides 0.5","v":446,"l":0},{"c":"gE Peptides 0.5","v":388,"l":0},{"c":"gE Peptides 0.5","v":354,"l":0},{"c":"gE Peptides 0.5","v":307,"l":0},{"c":"gE Peptides 0.5","v":294,"l":0},{"c":"gE Peptides 0.5","v":270,"l":0},{"c":"gE Peptides 0.5","v":257,"l":0},{"c":"gE Peptides 0.5","v":229,"l":0},{"c":"gE Peptides 0.5","v":169,"l":0},
{"c":"gE Peptides 0.5","v":160,"l":0},{"c":"gE Peptides 0.5","v":146,"l":0},{"c":"gE Peptides 0.5","v":140,"l":0},{"c":"gE Peptides 0.5","v":129,"l":0},{"c":"gE Peptides 0.5","v":97,"l":0},{"c":"gE Peptides 0.5","v":81,"l":0},{"c":"gE Peptides 0.5","v":76,"l":0.25},{"c":"gE Peptides 0.5","v":72,"l":-0.25},{"c":"gE Peptides 0.5","v":70,"l":0},{"c":"gE Peptides 0.5","v":67,"l":0.25},
{"c":"gE Peptides 0.5","v":65,"l":-0.25},{"c":"gE Peptides 0.5","v":62,"l":0},{"c":"gE Peptides 0.5","v":60,"l":0.5},{"c":"gE Peptides 0.5","v":58,"l":-0.5},{"c":"gE Peptides 0.5","v":56,"l":0},{"c":"gE Peptides 0.5","v":54,"l":0.25},{"c":"gE Peptides 0.5","v":52,"l":-0.25},{"c":"gE Peptides 0.5","v":50,"l":0.5},{"c":"gE Peptides 0.5","v":48,"l":-0.5},{"c":"gE Peptides 0.5","v":46,"l":0},
{"c":"gE Peptides 0.5","v":45,"l":0.5},{"c":"gE Peptides 0.5","v":43,"l":-0.5},{"c":"gE Peptides 0.5","v":42,"l":0.25},{"c":"gE Peptides 0.5","v":40,"l":-0.25},
{"c":"gE Peptides 0.5","v":39,"l":0},{"c":"gE Peptides 0.5","v":38,"l":1},{"c":"gE Peptides 0.5","v":37,"l":-1},{"c":"gE Peptides 0.5","v":36,"l":0},{"c":"gE Peptides 0.5","v":35,"l":1},{"c":"gE Peptides 0.5","v":34,"l":-1},{"c":"gE Peptides 0.5","v":33,"l":0},{"c":"gE Peptides 0.5","v":32,"l":1},{"c":"gE Peptides 0.5","v":31,"l":-1},{"c":"gE Peptides 0.5","v":30,"l":0},
{"c":"gE Peptides 0.5","v":29,"l":1},{"c":"gE Peptides 0.5","v":28,"l":-1},{"c":"gE Peptides 0.5","v":27,"l":0},{"c":"gE Peptides 0.5","v":26,"l":1},{"c":"gE Peptides 0.5","v":26,"l":-1},{"c":"gE Peptides 0.5","v":25,"l":0},{"c":"gE Peptides 0.5","v":24,"l":1},{"c":"gE Peptides 0.5","v":23,"l":-1},{"c":"gE Peptides 0.5","v":22,"l":0},{"c":"gE Peptides 0.5","v":21,"l":1},
{"c":"gE Peptides 0.5","v":20,"l":-1},{"c":"gE Peptides 0.5","v":20,"l":0},
{"c":"gE Peptides 0.5","v":19,"l":0},{"c":"gE Peptides 0.5","v":19,"l":1},{"c":"gE Peptides 0.5","v":18,"l":-1},{"c":"gE Peptides 0.5","v":18,"l":2},{"c":"gE Peptides 0.5","v":17,"l":-2},{"c":"gE Peptides 0.5","v":17,"l":0},{"c":"gE Peptides 0.5","v":16,"l":1},{"c":"gE Peptides 0.5","v":16,"l":-1},{"c":"gE Peptides 0.5","v":15,"l":2},{"c":"gE Peptides 0.5","v":15,"l":-2},
{"c":"gE Peptides 0.5","v":14,"l":0},{"c":"gE Peptides 0.5","v":14,"l":1},{"c":"gE Peptides 0.5","v":14,"l":-1},{"c":"gE Peptides 0.5","v":13,"l":2},{"c":"gE Peptides 0.5","v":13,"l":-2},{"c":"gE Peptides 0.5","v":13,"l":0},{"c":"gE Peptides 0.5","v":12,"l":1},{"c":"gE Peptides 0.5","v":12,"l":-1},{"c":"gE Peptides 0.5","v":12,"l":2},{"c":"gE Peptides 0.5","v":12,"l":-2},
{"c":"gE Peptides 0.5","v":11,"l":0},{"c":"gE Peptides 0.5","v":11,"l":1},{"c":"gE Peptides 0.5","v":11,"l":-1},{"c":"gE Peptides 0.5","v":11,"l":2},{"c":"gE Peptides 0.5","v":10,"l":-2},{"c":"gE Peptides 0.5","v":10,"l":0},{"c":"gE Peptides 0.5","v":10,"l":1},{"c":"gE Peptides 0.5","v":10,"l":-1},{"c":"gE Peptides 0.5","v":10,"l":2},{"c":"gE Peptides 0.5","v":10,"l":-2},
{"c":"gE Peptides 0.5","v":9,"l":0},{"c":"gE Peptides 0.5","v":9,"l":1},{"c":"gE Peptides 0.5","v":9,"l":-1},{"c":"gE Peptides 0.5","v":9,"l":2},{"c":"gE Peptides 0.5","v":9,"l":-2},{"c":"gE Peptides 0.5","v":9,"l":3},{"c":"gE Peptides 0.5","v":8,"l":-3},{"c":"gE Peptides 0.5","v":8,"l":4},{"c":"gE Peptides 0.5","v":8,"l":-4},
{"c":"gE Peptides 0.5","v":8,"l":0},{"c":"gE Peptides 0.5","v":8,"l":1},{"c":"gE Peptides 0.5","v":8,"l":-1},{"c":"gE Peptides 0.5","v":8,"l":2},{"c":"gE Peptides 0.5","v":8,"l":-2},{"c":"gE Peptides 0.5","v":8,"l":3},{"c":"gE Peptides 0.5","v":7,"l":-3},{"c":"gE Peptides 0.5","v":7,"l":4},{"c":"gE Peptides 0.5","v":7,"l":-4},
{"c":"gE Peptides 0.5","v":7,"l":0},{"c":"gE Peptides 0.5","v":7,"l":1},{"c":"gE Peptides 0.5","v":7,"l":-1},{"c":"gE Peptides 0.5","v":7,"l":2},{"c":"gE Peptides 0.5","v":7,"l":-2},{"c":"gE Peptides 0.5","v":7,"l":3},{"c":"gE Peptides 0.5","v":7,"l":-3},{"c":"gE Peptides 0.5","v":7,"l":4},{"c":"gE Peptides 0.5","v":7,"l":-4},
{"c":"gE Peptides 0.5","v":7,"l":0},{"c":"gE Peptides 0.5","v":7,"l":1},{"c":"gE Peptides 0.5","v":7,"l":-1},{"c":"gE Peptides 0.5","v":7,"l":2},{"c":"gE Peptides 0.5","v":7,"l":-2},{"c":"gE Peptides 0.5","v":6,"l":3},{"c":"gE Peptides 0.5","v":6,"l":-3},{"c":"gE Peptides 0.5","v":6,"l":4},{"c":"gE Peptides 0.5","v":6,"l":-4},
{"c":"gE Peptides 0.5","v":6,"l":0},{"c":"gE Peptides 0.5","v":6,"l":1},{"c":"gE Peptides 0.5","v":6,"l":-1},{"c":"gE Peptides 0.5","v":6,"l":2},{"c":"gE Peptides 0.5","v":6,"l":-2},{"c":"gE Peptides 0.5","v":6,"l":3},{"c":"gE Peptides 0.5","v":5,"l":-3},{"c":"gE Peptides 0.5","v":5,"l":4},{"c":"gE Peptides 0.5","v":5,"l":-4},
{"c":"gE Peptides 0.5","v":5,"l":0},{"c":"gE Peptides 0.5","v":5,"l":1},{"c":"gE Peptides 0.5","v":5,"l":-1},{"c":"gE Peptides 0.5","v":5,"l":2},{"c":"gE Peptides 0.5","v":5,"l":-2},{"c":"gE Peptides 0.5","v":5,"l":3},{"c":"gE Peptides 0.5","v":5,"l":-3},{"c":"gE Peptides 0.5","v":5,"l":4},{"c":"gE Peptides 0.5","v":5,"l":-4},
{"c":"gE Peptides 0.5","v":4,"l":0},{"c":"gE Peptides 0.5","v":4,"l":1},{"c":"gE Peptides 0.5","v":4,"l":-1},{"c":"gE Peptides 0.5","v":4,"l":2},{"c":"gE Peptides 0.5","v":4,"l":-2},{"c":"gE Peptides 0.5","v":4,"l":3},{"c":"gE Peptides 0.5","v":4,"l":-3},{"c":"gE Peptides 0.5","v":4,"l":4},{"c":"gE Peptides 0.5","v":4,"l":-4},
{"c":"gE Peptides 0.5","v":4,"l":0},{"c":"gE Peptides 0.5","v":4,"l":1},{"c":"gE Peptides 0.5","v":4,"l":-1},{"c":"gE Peptides 0.5","v":3,"l":2},{"c":"gE Peptides 0.5","v":3,"l":-2},{"c":"gE Peptides 0.5","v":3,"l":3},{"c":"gE Peptides 0.5","v":3,"l":-3},{"c":"gE Peptides 0.5","v":3,"l":4},{"c":"gE Peptides 0.5","v":3,"l":-4},
{"c":"gE Peptides 0.5","v":3,"l":0},{"c":"gE Peptides 0.5","v":3,"l":1},{"c":"gE Peptides 0.5","v":3,"l":-1},{"c":"gE Peptides 0.5","v":3,"l":2},{"c":"gE Peptides 0.5","v":3,"l":-2},{"c":"gE Peptides 0.5","v":3,"l":3},{"c":"gE Peptides 0.5","v":2,"l":-3},{"c":"gE Peptides 0.5","v":2,"l":4},{"c":"gE Peptides 0.5","v":2,"l":-4},
{"c":"gE Peptides 0.5","v":2,"l":0},{"c":"gE Peptides 0.5","v":2,"l":1},{"c":"gE Peptides 0.5","v":2,"l":-1},{"c":"gE Peptides 0.5","v":2,"l":2},{"c":"gE Peptides 0.5","v":2,"l":-2},{"c":"gE Peptides 0.5","v":2,"l":3},{"c":"gE Peptides 0.5","v":2,"l":-3},{"c":"gE Peptides 0.5","v":2,"l":4},{"c":"gE Peptides 0.5","v":2,"l":-4},
{"c":"gE Peptides 0.5","v":1,"l":0},{"c":"gE Peptides 0.5","v":1,"l":1},{"c":"gE Peptides 0.5","v":1,"l":-1},{"c":"gE Peptides 0.5","v":1,"l":2},{"c":"gE Peptides 0.5","v":1,"l":-2},{"c":"gE Peptides 0.5","v":1,"l":3},{"c":"gE Peptides 0.5","v":1,"l":-3},{"c":"gE Peptides 0.5","v":1,"l":4},{"c":"gE Peptides 0.5","v":1,"l":-4},
{"c":"gE Peptides 0.5","v":1,"l":0},{"c":"gE Peptides 0.5","v":1,"l":1},{"c":"gE Peptides 0.5","v":1,"l":-1},{"c":"gE Peptides 0.5","v":0,"l":2},{"c":"gE Peptides 0.5","v":0,"l":-2},{"c":"gE Peptides 0.5","v":0,"l":3},{"c":"gE Peptides 0.5","v":0,"l":-3},{"c":"gE Peptides 0.5","v":0,"l":4},{"c":"gE Peptides 0.5","v":0,"l":-4},
{"c":"gE Peptides 0.5","v":0,"l":0},{"c":"gE Peptides 0.5","v":0,"l":1},{"c":"gE Peptides 0.5","v":0,"l":-1},{"c":"gE Peptides 0.5","v":0,"l":2},{"c":"gE Peptides 0.5","v":0,"l":-2},{"c":"gE Peptides 0.5","v":0,"l":3},{"c":"gE Peptides 0.5","v":0,"l":-3},{"c":"gE Peptides 0.5","v":0,"l":4},{"c":"gE Peptides 0.5","v":0,"l":-4},
{"c":"gE Peptides 0.5","v":0,"l":0},{"c":"gE Peptides 0.5","v":0,"l":1},{"c":"gE Peptides 0.5","v":0,"l":-1},{"c":"gE Peptides 0.5","v":0,"l":2},{"c":"gE Peptides 0.5","v":0,"l":-2},{"c":"gE Peptides 0.5","v":-1,"l":3},{"c":"gE Peptides 0.5","v":-1,"l":-3},{"c":"gE Peptides 0.5","v":-1,"l":4},{"c":"gE Peptides 0.5","v":-1,"l":-4},
{"c":"gE Peptides 0.5","v":-1,"l":0},{"c":"gE Peptides 0.5","v":-1,"l":1},{"c":"gE Peptides 0.5","v":-1,"l":-1},{"c":"gE Peptides 0.5","v":-1,"l":2},{"c":"gE Peptides 0.5","v":-2,"l":-2},{"c":"gE Peptides 0.5","v":-2,"l":3},{"c":"gE Peptides 0.5","v":-2,"l":-3},{"c":"gE Peptides 0.5","v":-2,"l":4},{"c":"gE Peptides 0.5","v":-2,"l":-4},
{"c":"gE Peptides 0.5","v":-2,"l":0},{"c":"gE Peptides 0.5","v":-2,"l":1},{"c":"gE Peptides 0.5","v":-2,"l":-1},{"c":"gE Peptides 0.5","v":-3,"l":2},{"c":"gE Peptides 0.5","v":-3,"l":-2},{"c":"gE Peptides 0.5","v":-3,"l":3},{"c":"gE Peptides 0.5","v":-3,"l":-3},{"c":"gE Peptides 0.5","v":-3,"l":4},{"c":"gE Peptides 0.5","v":-3,"l":-4},
{"c":"gE Peptides 0.5","v":-4,"l":0},{"c":"gE Peptides 0.5","v":-4,"l":1},{"c":"gE Peptides 0.5","v":-4,"l":-1},{"c":"gE Peptides 0.5","v":-4,"l":2},{"c":"gE Peptides 0.5","v":-4,"l":-2},{"c":"gE Peptides 0.5","v":-4,"l":3}
 ]
},
"vconcat":[
 {
  "width":1241,"height":965,
  "resolve":{"scale":{"x":"independent"}},
  "layer":[
   {
    "data":{"name":"a_points"},
    "transform":[{"filter":"datum.g !== 'Glycoprotein (Gp) [µg/mL]'"}],
    "mark":{"type":"point","shape":"circle","filled":false,"strokeWidth":4,"size":855,"opacity":1},
    "encoding":{
     "x":{"field":"c","type":"nominal","sort":null,"scale":{"domain":["Whole VZV 1:2","Whole VZV 1:8","gap1","Gp 10","Gp 1","Gp 0.1","gap2","gE Peptides 1","gE Peptides 0.5"],"paddingInner":0,"paddingOuter":0},"axis":{"title":null,"labelExpr":"indexof(datum.label, 'gap') === 0 ? '' : datum.label"}},
     "y":{"field":"v","type":"quantitative","scale":{"domain":[-14,600],"nice":false,"zero":false},"axis":{"title":"IFN-γ spots increment","values":[0,200,400,600]}},
     "stroke":{"field":"c","type":"nominal","scale":{"domain":["Whole VZV 1:2","Whole VZV 1:8","Gp 10","Gp 1","Gp 0.1","gE Peptides 1","gE Peptides 0.5"],"range":["#000080","#0000ff","#000000","#000000","#000000","#008000","#00c000"]},"legend":null}
    }
   },
   {
    "data":{"name":"a_points"},
    "transform":[{"filter":"datum.g === 'Glycoprotein (Gp) [µg/mL]'"}],
    "mark":{"type":"point","shape":"triangle-down","filled":false,"strokeWidth":4,"size":1150,"opacity":1},
    "encoding":{
     "x":{"field":"c","type":"nominal","sort":null,"scale":{"domain":["Whole VZV 1:2","Whole VZV 1:8","gap1","Gp 10","Gp 1","Gp 0.1","gap2","gE Peptides 1","gE Peptides 0.5"],"paddingInner":0,"paddingOuter":0},"axis":null},
     "y":{"field":"v","type":"quantitative","scale":{"domain":[-14,600],"nice":false,"zero":false},"axis":{"title":"IFN-γ spots increment","values":[0,200,400,600]}},
     "stroke":{"field":"c","type":"nominal","scale":{"domain":["Whole VZV 1:2","Whole VZV 1:8","Gp 10","Gp 1","Gp 0.1","gE Peptides 1","gE Peptides 0.5"],"range":["#000080","#0000ff","#000000","#000000","#000000","#008000","#00c000"]},"legend":null}
    }
   },
   {
    "data":{"name":"a_points"},
    "transform":[{"filter":"false"}],
    "mark":{"type":"point","filled":false,"strokeWidth":4,"size":1000,"opacity":1},
    "encoding":{
     "x":{"field":"c","type":"nominal","sort":null,"scale":{"domain":["Whole VZV 1:2","Whole VZV 1:8","gap1","Gp 10","Gp 1","Gp 0.1","gap2","gE Peptides 1","gE Peptides 0.5"],"paddingInner":0,"paddingOuter":0},"axis":null},
     "y":{"field":"v","type":"quantitative","scale":{"domain":[-14,600],"nice":false,"zero":false},"axis":{"title":"IFN-γ spots increment","values":[0,200,400,600]}},
     "color":{"field":"g","type":"nominal","scale":{"domain":["Whole VZV [dilution]","Glycoprotein (Gp) [µg/mL]","gE Peptides [µg/mL]"],"range":["#000080","#000000","#008000"]},
      "legend":{"orient":"none","legendX":368,"legendY":0,"title":null,"padding":34,"strokeColor":"black","fillColor":"white","labelFont":"Liberation Sans","labelFontSize":53,"labelFontWeight":"bold","labelColor":"black","labelOffset":52,"labelLimit":2000,"symbolOffset":15,"rowPadding":26,"symbolSize":1000,"symbolStrokeWidth":4,"symbolFillColor":"transparent"}},
     "shape":{"field":"g","type":"nominal","scale":{"domain":["Whole VZV [dilution]","Glycoprotein (Gp) [µg/mL]","gE Peptides [µg/mL]"],"range":["circle","triangle-down","circle"]},
      "legend":{"orient":"none","legendX":368,"legendY":0,"title":null,"padding":34,"strokeColor":"black","fillColor":"white","labelFont":"Liberation Sans","labelFontSize":53,"labelFontWeight":"bold","labelColor":"black","labelOffset":52,"labelLimit":2000,"symbolOffset":15,"rowPadding":26,"symbolSize":1000,"symbolStrokeWidth":4,"symbolFillColor":"transparent"}}
    }
   },
   {
    "data":{"name":"a_medians"},
    "mark":{"type":"tick","orient":"horizontal","size":114,"thickness":9,"color":"black","opacity":1},
    "encoding":{
     "x":{"field":"c","type":"nominal","sort":null,"scale":{"domain":["Whole VZV 1:2","Whole VZV 1:8","gap1","Gp 10","Gp 1","Gp 0.1","gap2","gE Peptides 1","gE Peptides 0.5"],"paddingInner":0,"paddingOuter":0},"axis":null},
     "y":{"field":"m","type":"quantitative","scale":{"domain":[-14,600],"nice":false,"zero":false},"axis":{"title":"IFN-γ spots increment","values":[0,200,400,600]}}
    }
   },
   {
    "data":{"values":[{"t":"(a)","q":-2.683,"v":759}]},
    "mark":{"type":"text","font":"Liberation Sans","fontSize":96,"fontWeight":"bold","align":"left","baseline":"alphabetic","color":"black"},
    "encoding":{
     "x":{"field":"q","type":"quantitative","scale":{"domain":[-0.5,8.5],"nice":false,"zero":false},"axis":null},
     "y":{"field":"v","type":"quantitative","scale":{"domain":[-14,600],"nice":false,"zero":false},"axis":{"title":"IFN-γ spots increment","values":[0,200,400,600]}},
     "text":{"field":"t"}
    }
   },
   {
    "data":{"values":[{"t":"n","q":-1.5,"v":686}]},
    "mark":{"type":"text","font":"Liberation Sans","fontSize":60,"fontWeight":"bold","fontStyle":"italic","align":"left","baseline":"alphabetic","color":"black"},
    "encoding":{
     "x":{"field":"q","type":"quantitative","scale":{"domain":[-0.5,8.5],"nice":false,"zero":false},"axis":null},
     "y":{"field":"v","type":"quantitative","scale":{"domain":[-14,600],"nice":false,"zero":false},"axis":{"title":"IFN-γ spots increment","values":[0,200,400,600]}},
     "text":{"field":"t"}
    }
   },
   {
    "data":{"values":[{"t":"= 7","q":-1.131,"v":686}]},
    "mark":{"type":"text","font":"Liberation Sans","fontSize":60,"fontWeight":"bold","align":"left","baseline":"alphabetic","color":"black"},
    "encoding":{
     "x":{"field":"q","type":"quantitative","scale":{"domain":[-0.5,8.5],"nice":false,"zero":false},"axis":null},
     "y":{"field":"v","type":"quantitative","scale":{"domain":[-14,600],"nice":false,"zero":false},"axis":{"title":"IFN-γ spots increment","values":[0,200,400,600]}},
     "text":{"field":"t"}
    }
   }
  ]
 },
 {
  "width":1241,"height":960,
  "resolve":{"scale":{"x":"independent"}},
  "layer":[
   {
    "data":{"name":"b_points"},
    "mark":{"type":"point","shape":"circle","filled":false,"strokeWidth":4,"size":855,"opacity":1},
    "encoding":{
     "x":{"field":"c","type":"nominal","sort":null,"scale":{"domain":["Whole VZV 1:2","Whole VZV 1:8","gap","gE Peptides 1","gE Peptides 0.5"],"paddingInner":0,"paddingOuter":0},"axis":{"title":null,"labelExpr":"indexof(datum.label, 'gap') === 0 ? '' : datum.label"}},
     "xOffset":{"field":"l","type":"ordinal","scale":{"domain":[-4,-3.75,-3.5,-3.25,-3,-2.75,-2.5,-2.25,-2,-1.75,-1.5,-1.25,-1,-0.75,-0.5,-0.25,0,0.25,0.5,0.75,1,1.25,1.5,1.75,2,2.25,2.5,2.75,3,3.25,3.5,3.75,4],"range":[58.1,190.1],"paddingInner":0,"paddingOuter":0}},
     "y":{"field":"v","type":"quantitative","scale":{"domain":[-5,600],"nice":false,"zero":false},"axis":{"title":"IFN-γ spots increment","values":[0,200,400,600]}},
     "stroke":{"field":"c","type":"nominal","scale":{"domain":["Whole VZV 1:2","Whole VZV 1:8","Gp 10","Gp 1","Gp 0.1","gE Peptides 1","gE Peptides 0.5"],"range":["#000080","#0000ff","#000000","#000000","#000000","#008000","#00c000"]},"legend":null}
    }
   },
   {
    "data":{"name":"b_medians"},
    "mark":{"type":"tick","orient":"horizontal","size":206,"thickness":11,"color":"black","opacity":1},
    "encoding":{
     "x":{"field":"c","type":"nominal","sort":null,"scale":{"domain":["Whole VZV 1:2","Whole VZV 1:8","gap","gE Peptides 1","gE Peptides 0.5"],"paddingInner":0,"paddingOuter":0},"axis":null},
     "y":{"field":"m","type":"quantitative","scale":{"domain":[-5,600],"nice":false,"zero":false},"axis":{"title":"IFN-γ spots increment","values":[0,200,400,600]}}
    }
   },
   {
    "data":{"name":"b_sig"},
    "mark":{"type":"rule","strokeWidth":11,"color":"black"},
    "encoding":{
     "x":{"field":"x1","type":"quantitative","scale":{"domain":[-0.5,4.5],"nice":false,"zero":false},"axis":null},
     "x2":{"field":"x2"},
     "y":{"field":"y","type":"quantitative","scale":{"domain":[-5,600],"nice":false,"zero":false},"axis":{"title":"IFN-γ spots increment","values":[0,200,400,600]}}
    }
   },
   {
    "data":{"name":"b_sig"},
    "mark":{"type":"text","font":"Liberation Sans","fontSize":56,"fontWeight":"bold","align":"center","baseline":"alphabetic","dy":-8,"color":"black"},
    "encoding":{
     "x":{"field":"xm","type":"quantitative","scale":{"domain":[-0.5,4.5],"nice":false,"zero":false},"axis":null},
     "y":{"field":"y","type":"quantitative","scale":{"domain":[-5,600],"nice":false,"zero":false},"axis":{"title":"IFN-γ spots increment","values":[0,200,400,600]}},
     "text":{"field":"t"}
    }
   },
   {
    "data":{"values":[{"t":"(b)","q":-1.717,"v":842.6}]},
    "mark":{"type":"text","font":"Liberation Sans","fontSize":96,"fontWeight":"bold","align":"left","baseline":"alphabetic","color":"black"},
    "encoding":{
     "x":{"field":"q","type":"quantitative","scale":{"domain":[-0.5,4.5],"nice":false,"zero":false},"axis":null},
     "y":{"field":"v","type":"quantitative","scale":{"domain":[-5,600],"nice":false,"zero":false},"axis":{"title":"IFN-γ spots increment","values":[0,200,400,600]}},
     "text":{"field":"t"}
    }
   },
   {
    "data":{"values":[{"t":"n","q":-1.318,"v":712}]},
    "mark":{"type":"text","font":"Liberation Sans","fontSize":60,"fontWeight":"bold","fontStyle":"italic","align":"left","baseline":"alphabetic","color":"black"},
    "encoding":{
     "x":{"field":"q","type":"quantitative","scale":{"domain":[-0.5,4.5],"nice":false,"zero":false},"axis":null},
     "y":{"field":"v","type":"quantitative","scale":{"domain":[-5,600],"nice":false,"zero":false},"axis":{"title":"IFN-γ spots increment","values":[0,200,400,600]}},
     "text":{"field":"t"}
    }
   },
   {
    "data":{"values":[{"t":"= 236","q":-1.116,"v":712}]},
    "mark":{"type":"text","font":"Liberation Sans","fontSize":60,"fontWeight":"bold","align":"left","baseline":"alphabetic","color":"black"},
    "encoding":{
     "x":{"field":"q","type":"quantitative","scale":{"domain":[-0.5,4.5],"nice":false,"zero":false},"axis":null},
     "y":{"field":"v","type":"quantitative","scale":{"domain":[-5,600],"nice":false,"zero":false},"axis":{"title":"IFN-γ spots increment","values":[0,200,400,600]}},
     "text":{"field":"t"}
    }
   }
  ]
 }
]
}
